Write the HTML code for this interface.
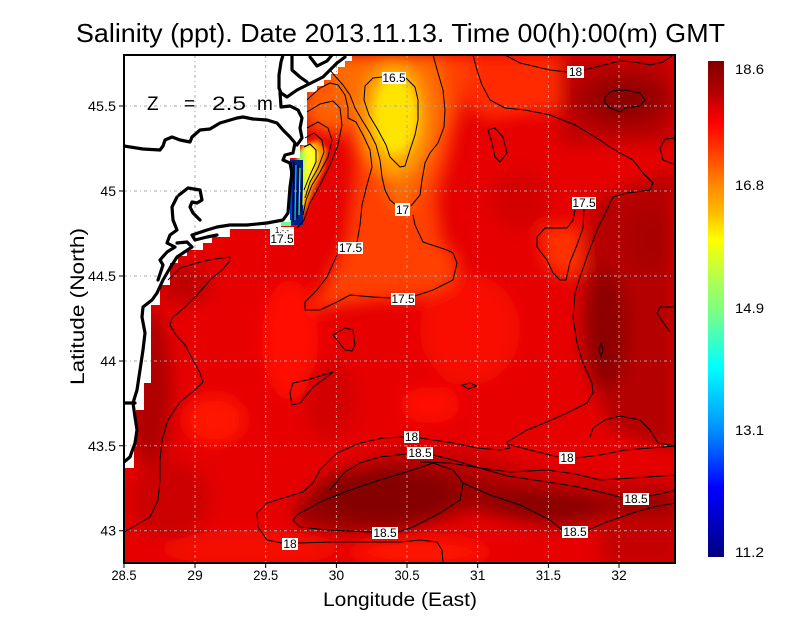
<!DOCTYPE html>
<html><head><meta charset="utf-8"><style>html,body{margin:0;padding:0;background:#fff}svg{display:block}</style></head>
<body>
<svg width="800" height="618" viewBox="0 0 800 618" xmlns="http://www.w3.org/2000/svg" font-family="Liberation Sans, sans-serif">
<defs>
<clipPath id="pc"><rect x="124" y="55" width="551" height="508"/></clipPath>
<filter id="b8" x="-30%" y="-30%" width="160%" height="160%"><feGaussianBlur stdDeviation="8"/></filter>
<filter id="b5" x="-30%" y="-30%" width="160%" height="160%"><feGaussianBlur stdDeviation="5"/></filter>
<filter id="b2" x="-30%" y="-30%" width="160%" height="160%"><feGaussianBlur stdDeviation="2"/></filter>
<linearGradient id="cb" x1="0" y1="0" x2="0" y2="1">
<stop offset="0" stop-color="#800000"/>
<stop offset="0.06" stop-color="#b00000"/>
<stop offset="0.125" stop-color="#ff0000"/>
<stop offset="0.2" stop-color="#ff5000"/>
<stop offset="0.25" stop-color="#ff8800"/>
<stop offset="0.31" stop-color="#ffc000"/>
<stop offset="0.36" stop-color="#ffff00"/>
<stop offset="0.44" stop-color="#b0ff50"/>
<stop offset="0.5" stop-color="#80ff80"/>
<stop offset="0.617" stop-color="#00ffff"/>
<stop offset="0.744" stop-color="#0090ff"/>
<stop offset="0.86" stop-color="#0000ff"/>
<stop offset="1" stop-color="#000080"/>
</linearGradient>
</defs>
<rect width="800" height="618" fill="#fff"/>

<g clip-path="url(#pc)">
<rect x="124" y="55" width="551" height="508" fill="#e60000"/>
<g filter="url(#b8)">
  <ellipse cx="215" cy="420" rx="30" ry="25" fill="#ff1500"/>
  <ellipse cx="290" cy="340" rx="28" ry="60" fill="#ff1000"/>
  <ellipse cx="470" cy="330" rx="50" ry="55" fill="#f80800"/>
  <ellipse cx="420" cy="552" rx="70" ry="14" fill="#ff1200"/>
  <ellipse cx="250" cy="548" rx="90" ry="18" fill="#f50800"/>
  <ellipse cx="430" cy="405" rx="30" ry="18" fill="#ff1000"/>
  <ellipse cx="150" cy="390" rx="22" ry="80" fill="#b00000"/>
  <ellipse cx="185" cy="285" rx="25" ry="20" fill="#c00000"/>
  <ellipse cx="170" cy="500" rx="40" ry="40" fill="#cc0000"/>
  <ellipse cx="330" cy="400" rx="25" ry="40" fill="#d20000"/>
  <ellipse cx="520" cy="200" rx="30" ry="30" fill="#d40000"/>
  <rect x="560" y="55" width="115" height="90" fill="#c00000"/>
  <ellipse cx="625" cy="100" rx="50" ry="30" fill="#a00000"/>
  <ellipse cx="625" cy="100" rx="25" ry="13" fill="#880000"/>
  <polygon points="595,200 675,170 675,450 610,430 592,380 582,320 585,250" fill="#b40000"/>
  <ellipse cx="605" cy="330" rx="22" ry="60" fill="#8e0000"/>
  <ellipse cx="650" cy="240" rx="20" ry="30" fill="#a80000"/>
  <polygon points="330,470 400,445 470,450 540,470 610,480 676,480 676,505 610,515 560,520 480,505 420,520 340,520" fill="#c60000"/>
  <polygon points="295,505 330,475 400,462 460,470 520,485 600,495 676,492 676,515 600,520 560,528 470,510 400,533 330,532 295,525" fill="#9a0000"/>
  <ellipse cx="385" cy="495" rx="70" ry="26" fill="#860000"/>
  <ellipse cx="545" cy="505" rx="55" ry="12" fill="#880000"/>
  <rect x="600" y="515" width="80" height="50" fill="#c40000"/>
  <polygon points="300,55 475,55 468,90 456,125 448,160 437,200 442,240 460,262 452,285 420,298 380,300 340,305 312,310 322,290 336,262 346,240 352,200 355,160 345,130 320,120 305,128 300,100" fill="#ff4000"/>
  <polygon points="470,55 560,55 560,110 520,115 490,120 470,110" fill="#ff2c00"/>
  <polygon points="540,227 580,225 585,270 565,280 545,265" fill="#ff3000"/>
  <polygon points="330,55 440,55 446,110 436,150 420,185 405,212 392,205 380,170 370,140 350,115 330,90" fill="#ff6c00"/>
  <polygon points="307,95 335,85 345,100 345,130 330,135 310,125" fill="#ff6000"/>
  <ellipse cx="394" cy="118" rx="32" ry="58" fill="#ffa800"/>
</g>
<g filter="url(#b5)">
  <ellipse cx="395" cy="115" rx="22" ry="40" fill="#ffe400"/>
</g>
<g filter="url(#b2)">
  <polygon points="303,145 318,140 327,150 323,170 313,190 306,210 300,218" fill="#ff9000"/>
  <polygon points="302,146 313,145 318,155 314,172 307,190 302,205" fill="#ffff20"/>
  <polygon points="297,150 305,150 305,185 298,195" fill="#90ff60"/>
</g>
<rect x="289" y="160" width="14" height="65" fill="#00208a"/>
<g stroke-width="1.2" fill="none">
  <path d="M291,162 L291,222" stroke="#0050ff"/>
  <path d="M294,162 L293,222" stroke="#000"/>
  <path d="M296,165 L295,220" stroke="#00c0ff"/>
  <path d="M298,165 L297,218" stroke="#000"/>
  <path d="M300,168 L299,215" stroke="#30ff90"/>
  <path d="M302,170 L301,212" stroke="#000"/>
  <path d="M304,172 L303,205" stroke="#e0ff00"/>
</g>
<rect x="281" y="220" width="10" height="6" fill="#60ffa0"/>

<polygon fill="#fff" points="124,55 352,55 352,61 345,61 345,67 338,67 338,74 331,74 331,80 324,80 324,86 317,86 317,92 307,92 307,145 300,145 300,158 290,158 290,222 281,222 281,229 230,229 230,237 212,237 212,243 203,243 203,250 187,250 187,256 178,256 178,263 170,263 170,285 160,285 160,305 151,305 151,383 144,383 144,410 136,410 136,443 134,443 134,468 124,468"/>

<g stroke="#aaaaaa" stroke-width="1" stroke-dasharray="3,3,1,3" fill="none">
  <path d="M195,55 V563 M265.7,55 V563 M336.4,55 V563 M407,55 V563 M477.7,55 V563 M548.4,55 V563 M619,55 V563"/>
  <path d="M124,530.7 H675 M124,445.8 H675 M124,361 H675 M124,276 H675 M124,191 H675 M124,106 H675"/>
</g>

<g stroke="#000" stroke-width="1" fill="none" stroke-linejoin="round">
  <path d="M382,77 L373,78 L365,86 L364,100 L369,115 L378,130 L386,145 L390,157 L400,167 L405,166 L410,150 L415,135 L418,120 L418,100 L415,87 L406,78"/>
  <path d="M433,55 L438,73 L443,90 L445,110 L444,127 L438,143 L430,153 L425,163 L422,180 L420,195 L411,206"/>
  <path d="M413,215 L415,225 L423,242 L447,250 L453,253 L457,263 L453,280 L433,290 L415,296"/>
  <path d="M390,298 L373,297 L350,295 L337,302 L320,310 L305,310 L305,302 L317,290 L327,277 L337,255"/>
  <path d="M357,242 L360,225 L362,205 L367,185 L372,167 L370,150 L363,135 L356,122 L348,118 L348,108 L345,95 L338,85 L330,83 L320,88 L310,97 L307,100"/>
  <path d="M397,206 L390,200 L385,190 L382,177 L380,160 L376,145 L370,133 L362,120 L355,108 L350,95 L343,85 L335,76 L330,70"/>
  <path d="M307,112 L320,104 L333,101 L340,108 L342,125 L338,145 L330,165 L320,185 L310,203 L304,220 L297,228"/>
  <path d="M307,128 L318,122 L328,128 L332,140 L328,157 L320,172 L312,185 L306,200 L303,215"/>
  <path d="M305,138 L314,133 L322,140 L324,152 L318,168 L310,182 L305,198"/>
  <path d="M304,147 L310,144 L316,150 L316,162 L310,175 L304,190"/>
  <path d="M473,55 L477,70 L482,85 L490,100 L505,108 L525,110 L550,115 L575,125 L600,140 L610,147 L620,153 L633,160 L643,173 L653,183 L650,190 L627,193 L613,197 L607,210 L597,230 L587,257 L580,277 L575,293 L573,317 L577,343 L583,363 L592,383 L593,393 L587,403 L567,413 L547,422 L527,430 L507,442 L510,448 L500,450 L477,448 L453,443 L433,440 L420,438"/>
  <path d="M404,437 L383,438 L360,443 L337,453 L320,470 L313,483 L303,492 L293,495 L267,503 L257,513 L258,527 L267,540 L282,543"/>
  <path d="M298,543 L333,542 L400,542 L420,540 L437,542 L442,550 L443,563"/>
  <path d="M507,444 L530,450 L558,457"/>
  <path d="M576,458 L600,455 L625,450 L650,448 L676,446"/>
  <path d="M590,437 L593,428 L605,420 L620,416 L640,420 L650,430 L658,443 L676,446"/>
  <path d="M505,55 L520,63 L550,70 L567,72"/>
  <path d="M584,70 L600,66 L620,61 L635,62 L650,65 L663,62 L672,56"/>
  <path d="M605,97 L612,91 L625,90 L640,93 L645,100 L640,106 L625,108 L620,112 L610,108 L605,103 Z"/>
  <path d="M676,138 L665,139 L660,148 L663,160 L676,165"/>
  <path d="M676,307 L660,307 L657,313 L663,322 L670,332"/>
  <path d="M584,209 L583,228 L577,245 L570,262 L566,280 L560,280 L553,273 L547,260 L537,247 L537,237 L545,228 L567,228 L573,220 L575,210"/>
  <path d="M488,130 L495,128 L503,137 L507,153 L500,162 L495,157 L492,143 Z"/>
  <path d="M333,335 L345,328 L353,330 L355,345 L352,351 L345,350 L337,340 Z"/>
  <path d="M290,393 L293,383 L307,380 L333,372 L327,377 L313,387 L300,403 L292,405 Z"/>
  <path d="M462,385 L470,383 L477,386 L468,389 Z"/>
  <path d="M601,343 L603,350 L601,357 L599,350 Z"/>
  <path d="M330,490 L345,472 L360,463 L380,457 L406,454"/>
  <path d="M433,455 L453,460 L480,468 L507,476 L547,482 L573,486 L600,492 L623,498"/>
  <path d="M649,496 L660,494 L676,490"/>
  <path d="M420,462 L450,463 L480,468 L510,472 L547,470 L575,474 L600,480 L633,478 L676,475"/>
  <path d="M413,470 L433,463 L453,470 L463,483 L460,500 L440,513 L413,527 L398,532"/>
  <path d="M372,532 L327,530 L300,527 L293,520 L297,515 L320,502 L350,490 L380,480 L400,474 L413,470"/>
  <path d="M463,483 L490,495 L520,505 L550,520 L562,530"/>
  <path d="M588,530 L607,522 L633,513 L653,507 L676,503"/>
  <path d="M168,280 L180,268 L200,262 L215,259 L230,257 L229,262 L222,270 L210,280 L197,295 L185,307 L172,318 L170,325 L176,335 L185,345 L193,360 L200,373 L203,382 L195,390 L180,402 L168,420 L162,440 L160,460 L160,480 L158,500 L150,517 L133,527 L124,532"/>
</g>

<g stroke="#000" stroke-width="3.2" fill="none" stroke-linejoin="round" stroke-linecap="round">
  <path d="M124,146 L143,149 L160,150 L163,146 L165,140 L172,137 L180,140 L190,142 L192,137 L200,130 L210,129 L220,123 L237,118 L243,117 L253,119 L267,120 L277,123 L283,130 L290,137 L295,143 L293,153 L285,155 L283,160 L290,163 L292,173 L290,187 L289,200 L288,213 L283,220 L267,223 L247,225 L230,225 L217,227 L207,230 L192,235 L195,240 L207,237 L217,235"/>
  <path d="M283,55 L281,62 L279,75 L279,88 L281,93 L287,97 L297,90 L313,82 L323,77 L337,63 L345,57"/>
  <path d="M292,55 L292,70 L300,77 L307,82"/>
  <path d="M310,57 L317,66 L327,61 L332,55"/>
  <path d="M280,92 L281,107 L290,106 L298,110 L302,118 L300,128 L302,138 L297,145"/>
  <path d="M179,195 L188,188 L200,190 L202,200 L197,203 L192,202 L190,207 L193,213 L200,220"/>
  <path d="M177,197 L172,207 L173,220 L177,230 L170,235 L167,243 L175,247 L167,252 L160,260 L163,265 L158,280"/>
  <path d="M177,243 L187,242 L192,247 L183,253 L177,257 L170,268 L163,280 L157,293 L152,300 L143,307 L142,317 L145,333 L143,350 L140,370 L137,390 L133,403 L135,417 L137,430 L135,443 L130,457 L124,462"/>
  <path d="M124,403 L135,403"/>
</g>

<g font-size="12" text-anchor="middle" fill="#000">
  <rect x="382" y="72" width="24" height="12" fill="#fff"/><text x="394" y="82">16.5</text>
  <rect x="567" y="66" width="17" height="12" fill="#fff"/><text x="575.5" y="76">18</text>
  <rect x="572" y="197" width="24" height="12" fill="#fff"/><text x="584" y="207">17.5</text>
  <rect x="395" y="203" width="15" height="13" fill="#fff"/><text x="402.5" y="214">17</text>
  <rect x="338" y="242" width="25" height="12" fill="#fff"/><text x="350.5" y="252">17.5</text>
  <rect x="270" y="227" width="24" height="18" fill="#fff"/><text x="282" y="243">17.5</text>
  <text x="282" y="233" font-size="8">1.-.-</text>
  <rect x="391" y="293" width="24" height="12" fill="#fff"/><text x="403" y="303">17.5</text>
  <rect x="404" y="431" width="15" height="12" fill="#fff"/><text x="411.5" y="441">18</text>
  <rect x="407" y="447" width="26" height="12" fill="#fff"/><text x="420" y="457">18.5</text>
  <rect x="559" y="452" width="16" height="12" fill="#fff"/><text x="567" y="462">18</text>
  <rect x="623" y="493" width="26" height="12" fill="#fff"/><text x="636" y="503">18.5</text>
  <rect x="372" y="527" width="26" height="12" fill="#fff"/><text x="385" y="537">18.5</text>
  <rect x="562" y="526" width="26" height="12" fill="#fff"/><text x="575" y="536">18.5</text>
  <rect x="282" y="538" width="16" height="12" fill="#fff"/><text x="290" y="548">18</text>
</g>
</g>

<rect x="124" y="55" width="551" height="508" fill="none" stroke="#000" stroke-width="2"/>
<g stroke="#000" stroke-width="1">
  <path d="M124,563 V568 M195,563 V568 M265.7,563 V568 M336.4,563 V568 M407,563 V568 M477.7,563 V568 M548.4,563 V568 M619,563 V568"/>
  <path d="M119,530.7 H124 M119,445.8 H124 M119,361 H124 M119,276 H124 M119,191 H124 M119,106 H124"/>
</g>
<g font-size="14" fill="#000" text-anchor="middle">
  <text x="124" y="580" textLength="25" lengthAdjust="spacingAndGlyphs">28.5</text>
  <text x="195" y="580">29</text>
  <text x="265.7" y="580" textLength="25" lengthAdjust="spacingAndGlyphs">29.5</text>
  <text x="336.4" y="580">30</text>
  <text x="407" y="580" textLength="25" lengthAdjust="spacingAndGlyphs">30.5</text>
  <text x="477.7" y="580">31</text>
  <text x="548.4" y="580" textLength="25" lengthAdjust="spacingAndGlyphs">31.5</text>
  <text x="619" y="580">32</text>
</g>
<g font-size="14" fill="#000" text-anchor="end">
  <text x="116" y="535.7">43</text>
  <text x="116" y="450.8" textLength="28" lengthAdjust="spacingAndGlyphs">43.5</text>
  <text x="116" y="366">44</text>
  <text x="116" y="281" textLength="28" lengthAdjust="spacingAndGlyphs">44.5</text>
  <text x="116" y="196">45</text>
  <text x="116" y="111" textLength="28" lengthAdjust="spacingAndGlyphs">45.5</text>
</g>

<rect x="708" y="61" width="16" height="496" fill="url(#cb)"/>
<g font-size="14" fill="#000">
  <text x="735" y="74" textLength="29" lengthAdjust="spacingAndGlyphs">18.6</text>
  <text x="735" y="190" textLength="29" lengthAdjust="spacingAndGlyphs">16.8</text>
  <text x="735" y="313" textLength="29" lengthAdjust="spacingAndGlyphs">14.9</text>
  <text x="735" y="435" textLength="29" lengthAdjust="spacingAndGlyphs">13.1</text>
  <text x="735" y="557" textLength="29" lengthAdjust="spacingAndGlyphs">11.2</text>
</g>

<text x="76" y="42" font-size="26" fill="#000" textLength="649" lengthAdjust="spacingAndGlyphs">Salinity (ppt). Date 2013.11.13. Time 00(h):00(m) GMT</text>
<g font-size="19" fill="#000">
  <text x="147" y="110">Z</text>
  <text x="184" y="110">=</text>
  <text x="212" y="110" textLength="34" lengthAdjust="spacingAndGlyphs">2.5</text>
  <text x="257" y="110">m</text>
</g>
<text x="323" y="606" font-size="19" fill="#000" textLength="154" lengthAdjust="spacingAndGlyphs">Longitude (East)</text>
<text transform="translate(84,385) rotate(-90)" x="0" y="0" font-size="19" fill="#000" textLength="157" lengthAdjust="spacingAndGlyphs">Latitude (North)</text>
</svg>
</body></html>
